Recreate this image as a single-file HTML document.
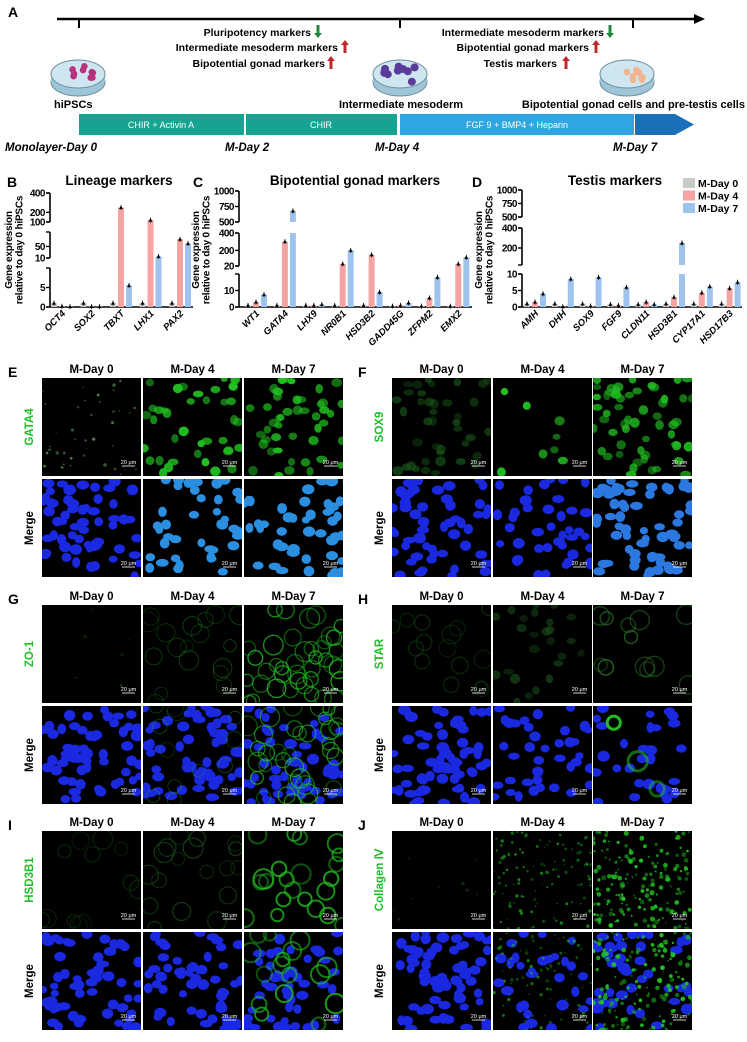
<!DOCTYPE html>
<html><head><meta charset="utf-8">
<style>
html,body{margin:0;padding:0;background:#fff;}
body{width:747px;height:1037px;overflow:hidden;font-family:"Liberation Sans",sans-serif;}
svg text{font-family:"Liberation Sans",sans-serif;}
</style></head>
<body>
<svg id="fig" width="747" height="1037" viewBox="0 0 747 1037" xmlns="http://www.w3.org/2000/svg">
<g id="panelA">
  <text x="8" y="17" font-size="14" font-weight="bold">A</text>
  <line x1="57" y1="19" x2="696" y2="19" stroke="#000" stroke-width="2.5"/>
  <polygon points="694,14 705,19 694,24" fill="#000"/>
  <line x1="79" y1="19" x2="79" y2="28" stroke="#000" stroke-width="2"/>
  <line x1="400" y1="19" x2="400" y2="28" stroke="#000" stroke-width="2"/>
  <line x1="633" y1="19" x2="633" y2="28" stroke="#000" stroke-width="2"/>
  <g font-size="10.5" font-weight="bold" text-anchor="end">
    <text x="311" y="36">Pluripotency markers</text>
    <text x="338" y="51">Intermediate mesoderm markers</text>
    <text x="325" y="67">Bipotential gonad markers</text>
    <text x="604" y="36">Intermediate mesoderm markers</text>
    <text x="589" y="51">Bipotential gonad markers</text>
    <text x="557" y="67">Testis markers</text>
  </g>
  <g id="arrows"></g>
  <g id="dishes"></g>
  <g font-size="11" font-weight="bold">
    <text x="54" y="108">hiPSCs</text>
    <text x="401" y="108" text-anchor="middle">Intermediate mesoderm</text>
    <text x="745" y="108" text-anchor="end">Bipotential gonad cells and pre-testis cells</text>
  </g>
  <rect x="79" y="114" width="165" height="21" fill="#16a392"/>
  <rect x="246" y="114" width="151" height="21" fill="#16a392"/>
  <rect x="400" y="114" width="234" height="21" fill="#2fa6e2"/>
  <polygon points="635,114 675,114 694,124.5 675,135 635,135" fill="#1a6fb8"/>
  <g font-size="9" fill="#fff" text-anchor="middle">
    <text x="161" y="128">CHIR + Activin A</text>
    <text x="321" y="128">CHIR</text>
    <text x="517" y="128">FGF 9 + BMP4 + Heparin</text>
  </g>
  <g font-size="11.5" font-weight="bold" font-style="italic">
    <text x="5" y="151">Monolayer-Day 0</text>
    <text x="225" y="151">M-Day 2</text>
    <text x="375" y="151">M-Day 4</text>
    <text x="613" y="151">M-Day 7</text>
  </g>
</g>
<g id="charts"></g>
<g id="micro"></g>
</svg>
<script>
// ===== Chart data =====
const seriesNames = ["M-Day 0","M-Day 4","M-Day 7"];
const bCats = ["OCT4","SOX2","TBXT","LHX1","PAX2"];
const bDay0 = [1,1,1,1,1];
const bDay4 = [0.2,0.1,250,120,75];
const bDay7 = [0.1,0.1,5.5,15,60];
const bTicks = [0,5,10,50,100,200,400];
const cCats = ["WT1","GATA4","LHX9","NR0B1","HSD3B2","GADD45G","ZFPM2","EMX2"];
const cDay0 = [1,1,1,1,1,0.5,0.5,0.5];
const cDay4 = [3,300,1,45,150,1,5.5,45];
const cDay7 = [7.5,680,1.5,200,9,2.5,18,120];
const cTicks = [0,10,20,200,400,500,750,1000];
const dCats = ["AMH","DHH","SOX9","FGF9","CLDN11","HSD3B1","CYP17A1","HSD17B3"];
const dDay0 = [1,1,1,0.8,0.8,1,1,1];
const dDay4 = [1.5,0.1,0.3,0.5,1.5,3,4.3,5.7];
const dDay7 = [4,8.5,9,6,0.8,250,6.2,7.5];
const dTicks = [0,5,10,200,400,500,750,1000];

const NS="http://www.w3.org/2000/svg";
function mk(tag,attrs,parent){const e=document.createElementNS(NS,tag);for(const k in attrs)e.setAttribute(k,attrs[k]);if(parent)parent.appendChild(e);return e;}

const arrowsG=document.getElementById('arrows');
[[318,31,'down'],[345,46,'up'],[331,62,'up'],[610,31,'down'],[596,46,'up'],[566,62,'up']].forEach(a=>{
  const [x,y,d]=a; const col=d==='down'?'#1f8a3a':'#c0282d';
  let p = d==='down' ? `${x-1.5},${y-6} ${x+1.5},${y-6} ${x+1.5},${y+2} ${x+4},${y+2} ${x},${y+7} ${x-4},${y+2} ${x-1.5},${y+2}`
                     : `${x-1.5},${y+7} ${x+1.5},${y+7} ${x+1.5},${y-1} ${x+4},${y-1} ${x},${y-6} ${x-4},${y-1} ${x-1.5},${y-1}`;
  const el=mk('polygon',{points:p,fill:col},arrowsG);
  
  
});
const dishG=document.getElementById('dishes');
[[78,'#b8327e'],[400,'#5a3a9a'],[627,'#f2b48e']].forEach((d,i)=>{
  const [cx,col]=d; const cy=74;
  const g=mk('g',{},dishG);
  
  
  mk('ellipse',{cx:cx,cy:cy+8,rx:27,ry:14,fill:'#9fc6d8',stroke:'#6b8e9e','stroke-width':1},g);
  mk('rect',{x:cx-27,y:cy,width:54,height:8,fill:'#9fc6d8'},g);
  mk('ellipse',{cx:cx,cy:cy,rx:27,ry:14,fill:'#cfe6f0',stroke:'#6b8e9e','stroke-width':1},g);
  let s=i*17+3;
  for(let k=0;k<9;k++){s=(s*9301+49297)%233280;const ax=(s/233280-0.5)*32;s=(s*9301+49297)%233280;const ay=(s/233280-0.5)*16;
    mk('circle',{cx:cx+ax,cy:cy+ay,r:i==1?4:3.3,fill:col},g);}
});

const chartsG=document.getElementById('charts');
const colors=["#c9c9c9","#f5a3a3","#9ec4ee"];
function drawChart(o){
  const g=mk('g',{},chartsG);
  
  
  const t=mk('text',{x:o.titleX,y:185,'font-size':13.5,'font-weight':'bold','text-anchor':'middle'},g);t.textContent=o.title;
  
  
  const L=mk('text',{x:o.letterX,y:187,'font-size':14,'font-weight':'bold'},g);L.textContent=o.letter;
  
  
  const yt=mk('text',{'font-size':10,'font-weight':'bold','text-anchor':'middle','letter-spacing':'-0.2',transform:`translate(${o.ytX},250) rotate(-90)`},g);
  
  
  const s1=mk('tspan',{x:0,dy:0},yt);s1.textContent='Gene expression';
  const s2=mk('tspan',{x:0,dy:10.5},yt);s2.textContent='relative to day 0 hiPSCs';
  const segs=o.segs;
  function yOf(v){for(let i=segs.length-1;i>=0;i--){const s=segs[i];if(v>=s.v0-1e-9||i===0){const vv=Math.min(v,s.v1);return s.y0+(vv-s.v0)/(s.v1-s.v0)*(s.y1-s.y0);}}}
  segs.forEach(s=>{
    const a=mk('line',{x1:o.ax,x2:o.ax,y1:s.y0,y2:s.y1,stroke:'#000','stroke-width':1.6},g);
    
    
    mk('line',{x1:o.ax-4,x2:o.ax,y1:s.y0,y2:s.y0,stroke:'#000','stroke-width':1.4},g);
    mk('line',{x1:o.ax-4,x2:o.ax,y1:s.y1,y2:s.y1,stroke:'#000','stroke-width':1.4},g);
  });
  o.ticks.forEach(v=>{
    const y=yOf(v);
    mk('line',{x1:o.ax-4,x2:o.ax,y1:y,y2:y,stroke:'#000','stroke-width':1.4},g);
    const tl=mk('text',{x:o.ax-5,y:y+3.5,'font-size':10,'font-weight':'bold','text-anchor':'end','letter-spacing':'-0.5'},g);tl.textContent=v;
    
    
  });
  const xa=mk('line',{x1:o.ax,x2:o.xEnd,y1:307,y2:307,stroke:'#000','stroke-width':1.6},g);
  
  
  const series=o.series;
  o.cats.forEach((c,i)=>{
    const cx=o.x0+i*o.step;
    series.forEach((vals,si)=>{
      const bx=cx+(si-1)*8-3; const v=vals[i];
      segs.forEach(s=>{
        if(v>s.v0||s===segs[0]){
          const top=yOf(Math.min(v,s.v1)); const bot=s.y0;
          if(bot-top>0){const r=mk('rect',{x:bx,y:top,width:6,height:bot-top,fill:colors[si]},g);
            
            }
        }
      });
      const my=yOf(v);
      const er=mk('line',{x1:bx+3,x2:bx+3,y1:my-2.5,y2:my+2.5,stroke:'#000','stroke-width':0.8},g);
      
      
      const m=mk('polygon',{points:`${bx+3},${my-2} ${bx+5},${my+1.5} ${bx+1},${my+1.5}`,fill:'#000'},g);
      
      
    });
    const xl=mk('text',{'font-size':9.5,'font-weight':'bold','font-style':'italic','text-anchor':'end',transform:`translate(${cx+4},314) rotate(-45)`},g);
    xl.textContent=c;
    
    
  });
}
drawChart({name:'chart-lineage-markers',title:'Lineage markers',titleX:119,letter:'B',letterX:7,ytX:12,ax:50,xEnd:193,x0:62,step:29.5,
  cats:bCats,series:[bDay0,bDay4,bDay7],ticks:bTicks,
  segs:[{v0:0,v1:10,y0:307,y1:268},{v0:10,v1:100,y0:258,y1:232},{v0:100,v1:400,y0:222,y1:193}]});
drawChart({name:'chart-bipotential-gonad-markers',title:'Bipotential gonad markers',titleX:355,letter:'C',letterX:193,ytX:199,ax:239,xEnd:472,x0:256,step:28.9,
  cats:cCats,series:[cDay0,cDay4,cDay7],ticks:cTicks,
  segs:[{v0:0,v1:20,y0:307,y1:274},{v0:20,v1:400,y0:266,y1:233},{v0:500,v1:1000,y0:222,y1:191}]});
drawChart({name:'chart-testis-markers',title:'Testis markers',titleX:615,letter:'D',letterX:472,ytX:482,ax:522,xEnd:742,x0:535,step:27.8,
  cats:dCats,series:[dDay0,dDay4,dDay7],ticks:dTicks,
  segs:[{v0:0,v1:10,y0:307,y1:274},{v0:30,v1:400,y0:265,y1:228},{v0:500,v1:1000,y0:217,y1:190}]});
const lg=mk('g',{},chartsG);


seriesNames.forEach((n,i)=>{
  const y=178+i*12.5;
  const r=mk('rect',{x:683,y:y,width:12,height:10,fill:colors[i]},lg);
  
  
  const t=mk('text',{x:698,y:y+9,'font-size':10.5,'font-weight':'bold'},lg);t.textContent=n;
  
  
});

const micro=document.getElementById('micro');
let seed=12345;
function rnd(){seed=(seed*16807)%2147483647;return seed/2147483647;}
const colXL=[42,143,244], colXR=[392,493,593];
const IW=99, IH=98;
function image(g,x,y,spec){
  const im=mk('g',{},g);
  
  
  const cid='c'+Math.floor(rnd()*1e9);
  const cp=mk('clipPath',{id:cid},im);mk('rect',{x:x,y:y,width:IW,height:IH},cp);
  const inner=mk('g',{'clip-path':`url(#${cid})`},im);
  mk('rect',{x:x,y:y,width:IW,height:IH,fill:'#000'},inner);
  if(spec.nuc){
    for(let k=0;k<spec.nuc.n;k++){
      const c=mk('ellipse',{cx:x+rnd()*IW,cy:y+rnd()*IH,rx:4+rnd()*2.5,ry:3.5+rnd()*2,fill:spec.nuc.col,opacity:spec.nuc.op||1},inner);
      
      
    }
  }
  if(spec.green){
    const gr=spec.green;
    for(let k=0;k<gr.n;k++){
      const cx=x+rnd()*IW, cy=y+rnd()*IH;
      let c;
      if(gr.t==='nuc') c=mk('ellipse',{cx:cx,cy:cy,rx:3.5+rnd()*2,ry:3+rnd()*2,fill:gr.col,opacity:gr.op*(0.5+rnd()*0.5)},inner);
      else if(gr.t==='ring') c=mk('circle',{cx:cx,cy:cy,r:(gr.rr||6)+rnd()*4,fill:'none',stroke:gr.col,'stroke-width':gr.w||1.2,opacity:gr.op*(0.5+rnd()*0.5)},inner);
      else c=mk('circle',{cx:cx,cy:cy,r:0.6+rnd()*(gr.r||1.2),fill:gr.col,opacity:gr.op*(0.4+rnd()*0.6)},inner);
      
      
    }
  }
  const sb=mk('g',{},im);
  
  
  mk('line',{x1:x+IW-19,x2:x+IW-6,y1:y+IH-10,y2:y+IH-10,stroke:'#fff','stroke-width':0.8},sb);
  const st=mk('text',{x:x+IW-12.5,y:y+IH-12,'font-size':5.5,fill:'#fff','text-anchor':'middle'},sb);st.textContent='20 μm';
}
function panel(o){
  const g=mk('g',{},micro);
  
  
  const cols=o.left?colXL:colXR; const T=o.T;
  const L=mk('text',{x:cols[0]-34,y:T-1,'font-size':14,'font-weight':'bold'},g);L.textContent=o.letter;
  
  
  ['M-Day 0','M-Day 4','M-Day 7'].forEach((n,i)=>{
    const t=mk('text',{x:cols[i]+IW/2,y:T-5,'font-size':11.5,'font-weight':'bold','text-anchor':'middle'},g);t.textContent=n;
    
    
  });
  const m=mk('text',{'font-size':11.5,'font-weight':'bold','text-anchor':'middle',fill:'#1fbf2a',transform:`translate(${cols[0]-9},${T+IH/2}) rotate(-90)`},g);
  m.textContent=o.marker;
  
  
  const mg=mk('text',{'font-size':11.5,'font-weight':'bold','text-anchor':'middle',transform:`translate(${cols[0]-9},${T+101+IH/2}) rotate(-90)`},g);
  mg.textContent='Merge';
  
  
  for(let i=0;i<3;i++){image(g,cols[i],T,o.top[i]);image(g,cols[i],T+101,o.bot[i]);}
}
const B='#1a28e0', CY='#2a9de8', G='#22c022';
panel({letter:'E',marker:'GATA4',left:true,T:378,
  top:[{green:{t:'dot',n:40,col:'#9f9',op:0.5}},{green:{t:'nuc',n:40,col:G,op:1}},{green:{t:'nuc',n:45,col:G,op:1}}],
  bot:[{nuc:{n:60,col:B}},{nuc:{n:40,col:'#2a8fe0'}},{nuc:{n:45,col:'#2a8fe0'}}]});
panel({letter:'F',marker:'SOX9',left:false,T:378,
  top:[{green:{t:'nuc',n:40,col:'#1a5a1a',op:0.7}},{green:{t:'nuc',n:8,col:G,op:1}},{green:{t:'nuc',n:55,col:G,op:0.9}}],
  bot:[{nuc:{n:55,col:B}},{nuc:{n:40,col:B}},{nuc:{n:60,col:'#2a78e0'}}]});
panel({letter:'G',marker:'ZO-1',left:true,T:605,
  top:[{green:{t:'dot',n:6,col:G,op:0.4}},{green:{t:'ring',n:18,col:G,op:0.5,w:0.7}},{green:{t:'ring',n:40,col:G,op:0.85,w:1.3}}],
  bot:[{nuc:{n:60,col:B}},{nuc:{n:60,col:B},green:{t:'ring',n:12,col:G,op:0.5,w:0.7}},{nuc:{n:55,col:B},green:{t:'ring',n:35,col:G,op:0.8,w:1.2}}]});
panel({letter:'H',marker:'STAR',left:false,T:605,
  top:[{green:{t:'ring',n:15,col:'#0d3a0d',op:0.8}},{green:{t:'nuc',n:25,col:'#1a4d1a',op:0.7}},{green:{t:'ring',n:12,col:'#2a7a2a',op:0.8,w:1.5}}],
  bot:[{nuc:{n:65,col:B}},{nuc:{n:38,col:B}},{nuc:{n:30,col:B},green:{t:'ring',n:3,col:G,op:1,w:3}}]});
panel({letter:'I',marker:'HSD3B1',left:true,T:831,
  top:[{green:{t:'ring',n:12,col:'#0d3a0d',op:0.7}},{green:{t:'ring',n:18,col:'#1a5a1a',op:0.7}},{green:{t:'ring',n:22,col:G,op:0.8,w:2}}],
  bot:[{nuc:{n:60,col:B}},{nuc:{n:55,col:B}},{nuc:{n:45,col:B},green:{t:'ring',n:16,col:G,op:0.8,w:2}}]});
panel({letter:'J',marker:'Collagen Ⅳ',left:false,T:831,
  top:[{green:{t:'dot',n:10,col:'#1a5a1a',op:0.6}},{green:{t:'dot',n:120,col:G,op:0.7}},{green:{t:'dot',n:200,col:G,op:1,r:2}}],
  bot:[{nuc:{n:65,col:B}},{nuc:{n:30,col:B},green:{t:'dot',n:90,col:G,op:0.7}},{nuc:{n:40,col:B},green:{t:'dot',n:160,col:G,op:1,r:2}}]});
</script>
</body></html>
